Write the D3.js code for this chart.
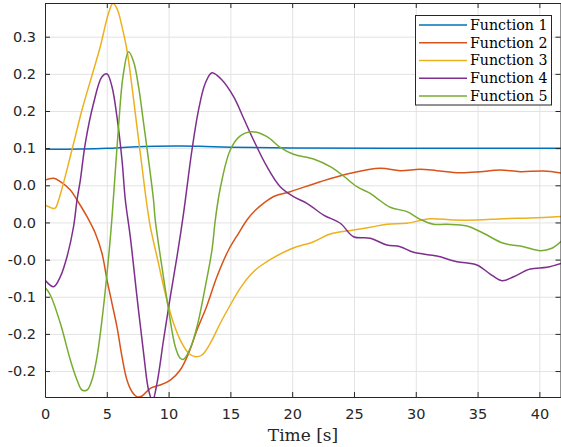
<!DOCTYPE html>
<html><head><meta charset="utf-8">
<script src="https://cdn.jsdelivr.net/npm/d3@7"></script>
<style>body{margin:0;background:#fff}svg{display:block}</style>
</head><body>
<svg id="c" width="561" height="447"></svg>
<script>
const seriesNames = ["Function 1","Function 2","Function 3","Function 4","Function 5"];
const colors = ["#0072BD","#D95319","#EDB120","#7E2F8E","#77AC30"];
const xTicks = [0,5,10,15,20,25,30,35,40];
const yTicks = [0.3,0.25,0.2,0.15,0.1,0.05,0,-0.05,-0.1,-0.15];
const yTickLabels = ["0.3","0.2","0.2","0.1","0.0","0.0","-0.0","-0.1","-0.2","-0.2"];

const f1T = [0,3,5,7,9,11,13,15,20,30,41.8];
const f1Y = [0.1485,0.1489,0.1498,0.1515,0.1526,0.1529,0.1522,0.1513,0.1502,0.1498,0.1498];

const f2T = [0,0.7,1.24,2.05,2.59,3.40,4.07,4.61,5.02,5.42,5.82,6.23,6.63,7.04,7.44,7.85,8.52,9.33,10.14,10.94,11.62,12.30,13.10,13.91,14.85,15.66,16.34,17.0,17.7,18.6,19.84,22.27,24.70,27.12,28.74,30.36,31.71,33.59,35.21,36.83,38.45,40.33,41.8];
const f2Y = [0.1071,0.1094,0.1048,0.0937,0.0802,0.0577,0.0354,0.0085,-0.0275,-0.0588,-0.0903,-0.1307,-0.1621,-0.1778,-0.1845,-0.1836,-0.1732,-0.1688,-0.1622,-0.1486,-0.1261,-0.0948,-0.0620,-0.0230,0.0129,0.0354,0.0533,0.0660,0.0760,0.0856,0.0914,0.1048,0.1162,0.1229,0.1197,0.1215,0.1197,0.1170,0.1183,0.1206,0.1183,0.1192,0.1165];

const f3T = [0,0.8,1.10,2.18,2.99,3.93,4.47,5.14,5.50,5.87,6.23,6.63,7.04,7.44,7.85,8.19,8.52,9.06,9.73,10.40,11.08,11.62,12.16,12.70,13.37,14.18,14.99,15.80,16.61,17.42,19.84,21.73,23.08,24.96,26.31,27.66,29.28,31.17,33.05,34.94,37.10,39.26,41.8];
const f3Y = [0.0735,0.0690,0.0802,0.1475,0.2013,0.2552,0.2865,0.3315,0.3450,0.3359,0.3135,0.2821,0.2327,0.1789,0.1250,0.0802,0.0443,0.0039,-0.0454,-0.0857,-0.1127,-0.1261,-0.1307,-0.1284,-0.1127,-0.0857,-0.0611,-0.0383,-0.0208,-0.0086,0.0139,0.0241,0.0345,0.0398,0.0435,0.0475,0.0489,0.0550,0.0533,0.0533,0.0550,0.0560,0.0580];

const f4T = [0,0.70,1.24,1.78,2.31,2.59,2.86,3.26,3.93,4.61,5.02,5.42,5.82,6.23,6.50,6.90,7.44,7.98,8.38,8.70,9.06,9.59,10.14,10.68,11.21,11.89,12.42,12.97,13.51,14.32,15.26,16.07,16.87,17.96,19.03,20.11,21.19,22.54,23.89,24.96,26.31,27.66,28.74,29.82,31.71,33.33,34.94,36.02,36.97,37.91,39.26,40.61,41.8];
const f4Y = [-0.0275,-0.0365,-0.0230,0.0039,0.0443,0.0802,0.1071,0.1565,0.2104,0.2462,0.2498,0.2327,0.1923,0.1340,0.0802,0.0308,-0.0499,-0.1261,-0.1755,-0.1900,-0.1665,-0.1082,-0.0499,0.0039,0.0623,0.1475,0.2013,0.2373,0.2515,0.2417,0.2192,0.1902,0.1610,0.1250,0.0981,0.0847,0.0758,0.0600,0.0489,0.0308,0.0287,0.0196,0.0174,0.0098,0.0048,-0.0028,-0.0073,-0.0194,-0.0284,-0.0230,-0.0127,-0.0104,-0.0050];

const f5T = [0,0.43,1.24,2.05,2.59,2.99,3.40,3.80,4.21,4.61,5.02,5.34,5.61,5.95,6.31,6.76,7.17,7.57,7.98,8.38,8.78,8.92,9.46,10.0,10.54,10.94,11.21,11.75,12.30,12.97,13.51,13.78,14.18,14.99,15.80,16.74,17.96,19.03,20.11,21.73,23.08,24.15,25.24,26.31,26.86,27.93,29.28,30.36,31.43,32.52,34.14,35.48,37.10,38.71,40.07,41.01,41.8];
const f5Y = [-0.0373,-0.0476,-0.0857,-0.1351,-0.1620,-0.1755,-0.1755,-0.1620,-0.1307,-0.0813,-0.0184,0.0398,0.1000,0.1789,0.2462,0.2798,0.2664,0.2327,0.1834,0.1340,0.0802,0.0533,-0.0096,-0.0678,-0.1172,-0.1328,-0.1342,-0.1194,-0.0903,-0.0365,0.0129,0.0533,0.0960,0.1475,0.1664,0.1721,0.1654,0.1511,0.1417,0.1354,0.1250,0.1125,0.0981,0.0892,0.0825,0.0704,0.0645,0.0542,0.0475,0.0475,0.0452,0.0354,0.0219,0.0174,0.0120,0.0152,0.0250];

const seriesT = [f1T,f2T,f3T,f4T,f5T];
const seriesY = [f1Y,f2Y,f3Y,f4Y,f5Y];

const L = 45, R = 561, T = 3, B = 397;
const svg = d3.select("#c");
const x = d3.scaleLinear().domain([0, 41.75]).range([L, R]);
const y = d3.scaleLinear().domain([0.3 - (B - 36.7) / 743, 0.3 + (36.7 - T) / 743]).range([B, T]);
const ink = "#262626";

// grid
svg.append("g").attr("transform", `translate(0,${B})`)
  .call(d3.axisBottom(x).tickValues(xTicks).tickSize(-(B - T)).tickFormat(""))
  .call(g => { g.select(".domain").remove(); g.selectAll("line").attr("stroke", "#e3e3e3"); });
svg.append("g").attr("transform", `translate(${L},0)`)
  .call(d3.axisLeft(y).tickValues(yTicks).tickSize(-(R - L)).tickFormat(""))
  .call(g => { g.select(".domain").remove(); g.selectAll("line").attr("stroke", "#e3e3e3"); });

// lines
svg.append("clipPath").attr("id", "clip").append("rect")
  .attr("x", L).attr("y", T).attr("width", R - L).attr("height", B - T);
const line = d3.line().x(d => x(d[0])).y(d => y(d[1])).curve(d3.curveCatmullRom.alpha(0.5));
const gl = svg.append("g").attr("clip-path", "url(#clip)");
seriesT.forEach((ts, i) => {
  const pts = ts.map((t, j) => [t, seriesY[i][j]]);
  gl.append("path").datum(pts).attr("d", line)
    .attr("fill", "none").attr("stroke", colors[i]).attr("stroke-width", 1.5)
    .attr("stroke-linejoin", "round");
});

// axes
const styleAxis = g => {
  g.select(".domain").attr("stroke", ink);
  g.selectAll(".tick line").attr("stroke", ink);
  g.selectAll("text").attr("fill", ink).style("font-family", "DejaVu Sans").style("font-size", "14.5px");
};
svg.append("g").attr("transform", `translate(0,${B})`)
  .call(d3.axisBottom(x).tickValues(xTicks).tickSizeInner(-5).tickSizeOuter(0).tickPadding(12))
  .call(styleAxis);
svg.append("g").attr("transform", `translate(0,${T})`)
  .call(d3.axisTop(x).tickValues(xTicks).tickSizeInner(-5).tickSizeOuter(0).tickFormat(""))
  .call(styleAxis);
svg.append("g").attr("transform", `translate(${L},0)`)
  .call(d3.axisLeft(y).tickValues(yTicks).tickSizeInner(-5).tickSizeOuter(0).tickPadding(9)
    .tickFormat((d, i) => yTickLabels[i]))
  .call(styleAxis);
svg.append("g").attr("transform", `translate(${R - 0.5},0)`)
  .call(d3.axisRight(y).tickValues(yTicks).tickSizeInner(-5).tickSizeOuter(0).tickFormat(""))
  .call(styleAxis);

// x label
svg.append("text").attr("x", (L + R) / 2).attr("y", 441).attr("text-anchor", "middle")
  .style("font-family", "DejaVu Serif").style("font-size", "17px").attr("fill", ink).text("Time [s]");

// legend
const lg = svg.append("g");
lg.append("rect").attr("x", 415.5).attr("y", 15.5).attr("width", 136).attr("height", 89.5)
  .attr("fill", "#fff").attr("stroke", ink).attr("stroke-width", 1);
seriesNames.forEach((n, i) => {
  const cy = 25 + i * 17.75;
  lg.append("line").attr("x1", 419).attr("x2", 467).attr("y1", cy).attr("y2", cy)
    .attr("stroke", colors[i]).attr("stroke-width", 1.5);
  lg.append("text").attr("x", 470).attr("y", cy).attr("dy", "0.35em")
    .style("font-family", "DejaVu Serif").style("font-size", "14.2px").attr("fill", "#000").text(n);
});
</script>
</body></html>
